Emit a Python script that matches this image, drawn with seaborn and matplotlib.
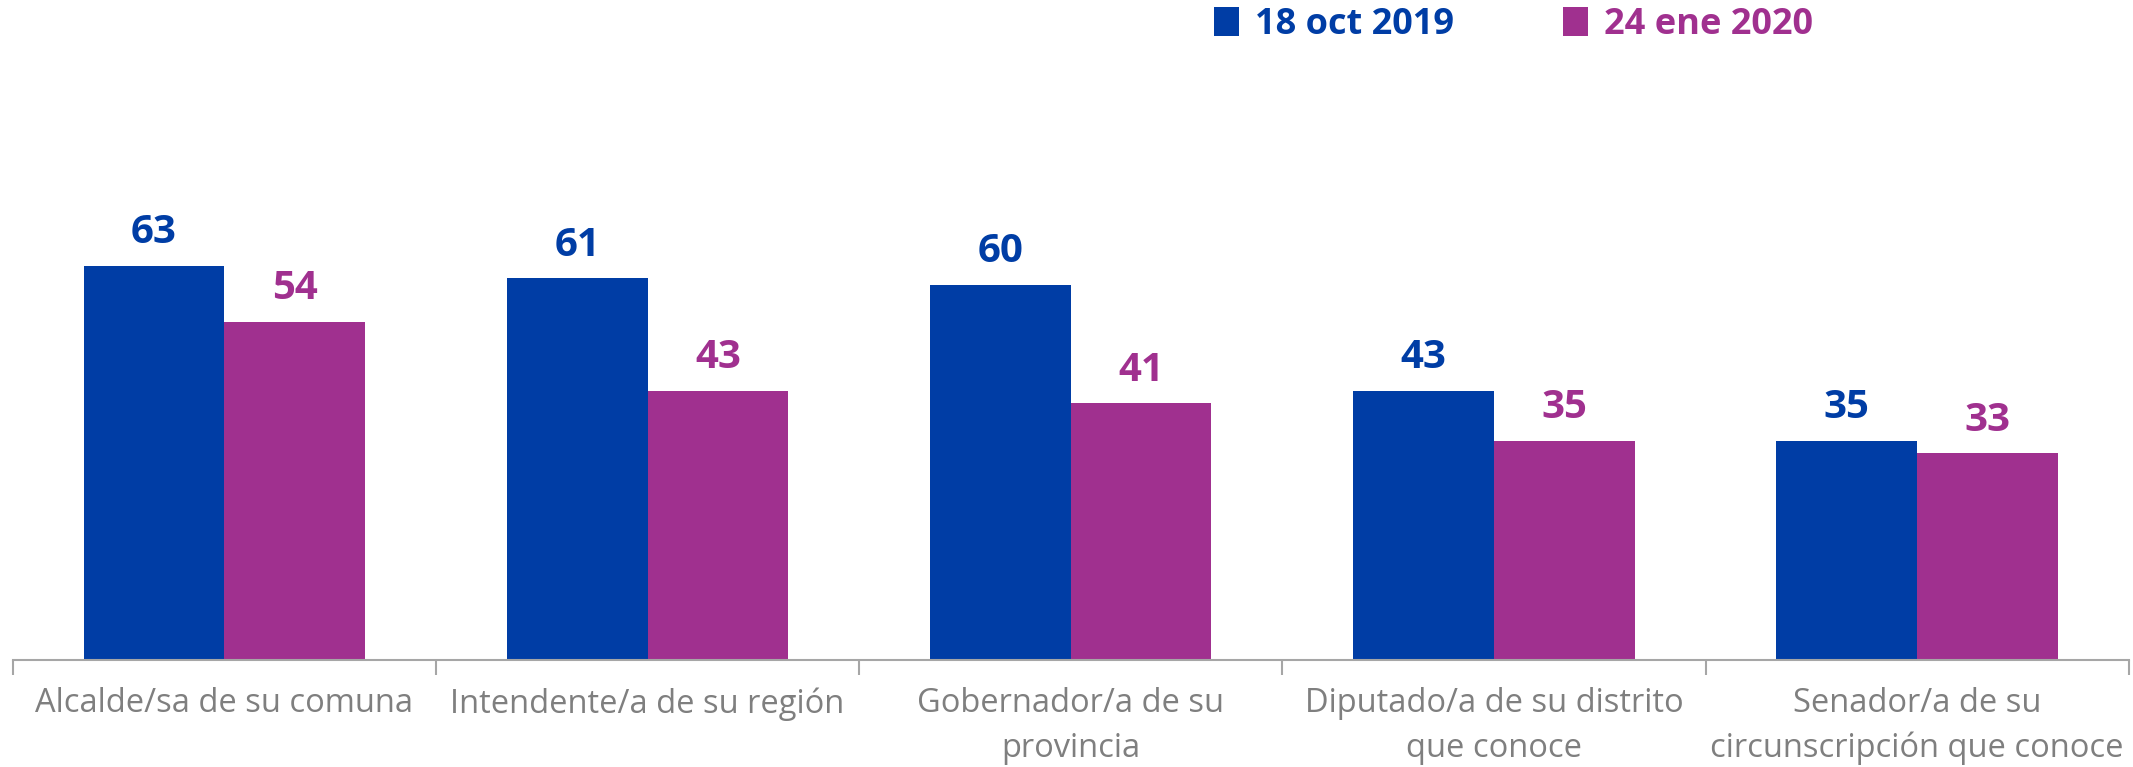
import matplotlib
matplotlib.use('Agg')
import matplotlib.pyplot as plt
from matplotlib.ticker import FixedLocator
import pandas as pd
import seaborn as sns

# data
categories = [
    'Alcalde/sa de su comuna',
    'Intendente/a de su región',
    'Gobernador/a de su\nprovincia',
    'Diputado/a de su distrito\nque conoce',
    'Senador/a de su\ncircunscripción que conoce',
]
series_names = ['18 oct 2019', '24 ene 2020']
values_oct = [63, 61, 60, 43, 35]
values_ene = [54, 43, 41, 35, 33]

colors = ['#003DA5', '#A0308F']
gray = '#7F7F7F'

df = pd.DataFrame({
    'cargo': categories * 2,
    'fecha': [series_names[0]] * len(categories) + [series_names[1]] * len(categories),
    'valor': values_oct + values_ene,
})

sns.set_style('white')
plt.rcParams['font.family'] = ['Open Sans', 'DejaVu Sans']

fig = plt.figure(figsize=(21.33, 7.67), dpi=100)
ax = fig.add_axes([0.006, 0.14, 0.992, 0.73])

sns.barplot(data=df, x='cargo', y='valor', hue='fecha', palette=colors,
            width=0.665, linewidth=0, saturation=1, ax=ax)

ax.set_ylim(0, 89.6)
ax.set_xlim(-0.5, len(categories) - 0.5)
ax.set_xlabel('')
ax.set_ylabel('')
ax.set_yticks([])

for c, col in zip(ax.containers, colors):
    ax.bar_label(c, fmt='%d', padding=10, color=col, fontsize=29, fontweight='bold')

for s in ['top', 'right', 'left']:
    ax.spines[s].set_visible(False)
ax.spines['bottom'].set_color('#A6A6A6')
ax.spines['bottom'].set_linewidth(1.5)

ax.tick_params(axis='x', which='major', length=0, pad=20, labelsize=23.5, labelcolor=gray)
for t in ax.get_xticklabels():
    t.set_linespacing(1.45)
ax.xaxis.set_minor_locator(FixedLocator([i - 0.5 for i in range(len(categories) + 1)]))
ax.tick_params(axis='x', which='minor', length=11, width=1.5, color='#A6A6A6', bottom=True)

handles, labels = ax.get_legend_handles_labels()
ax.get_legend().remove()
fig.legend(handles, labels, loc='center left', bbox_to_anchor=(0.569, 0.967),
           ncol=2, frameon=False, borderpad=0, borderaxespad=0,
           handlelength=0.7, handleheight=0.85,
           handletextpad=0.45, columnspacing=3.0,
           prop={'size': 26, 'weight': 'bold'}, labelcolor=colors)

fig.savefig('out.png', dpi=100)
